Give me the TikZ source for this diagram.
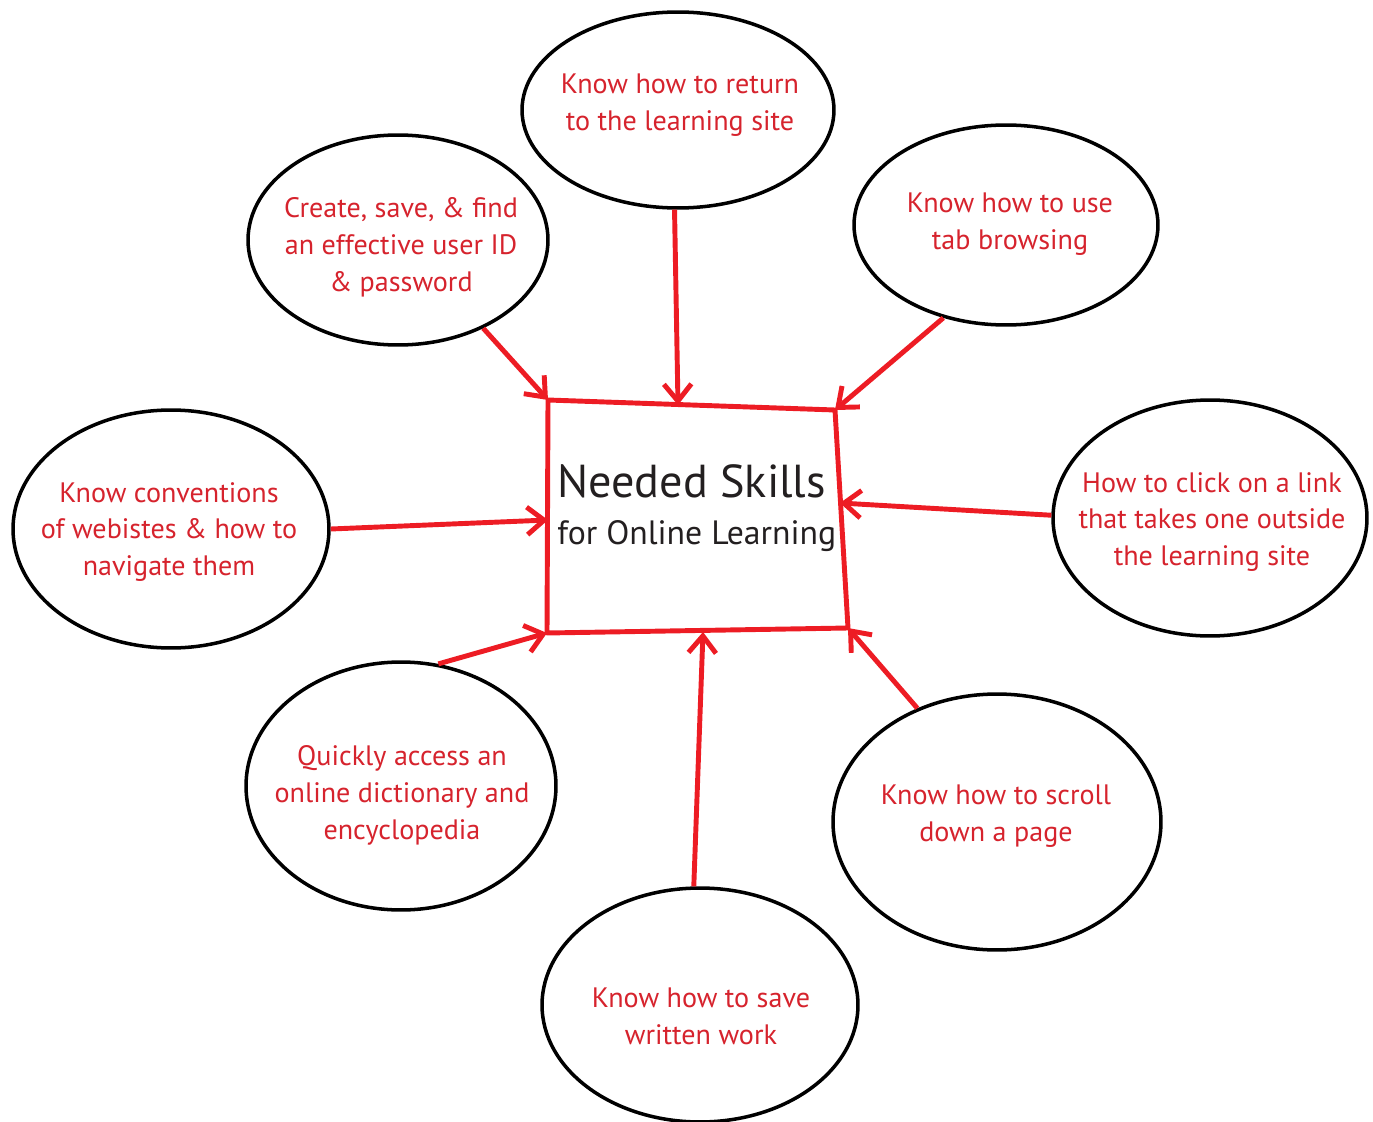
\documentclass[tikz,border=0pt]{standalone}
\usepackage{fontspec}
\setmainfont{PT Sans}
\usetikzlibrary{arrows.meta, shapes.geometric}

\definecolor{linered}{RGB}{237,28,36}
\definecolor{textred}{RGB}{214,35,45}
\definecolor{inkgray}{RGB}{35,31,32}

\begin{document}
\begin{tikzpicture}[x=0.02cm, y=-0.02cm,
    bubble/.style={draw=black, line width=2pt, ellipse, inner sep=0pt},
    bubbletext/.style={inner sep=0pt, align=center, text=textred, font=\fontsize{16}{21}\selectfont},
    link/.style={draw=linered, line width=2.8pt, -{Straight Barb[length=0.34cm, width=0.55cm]}},
    frame/.style={draw=linered, line width=2.8pt, line join=round}]
                    \useasboundingbox (0, 0) rectangle (1373, 1122);

                    \coordinate (tl) at (548, 400);
                    \coordinate (tr) at (835, 410);
                    \coordinate (br) at (848, 628);
                    \coordinate (bl) at (547, 633);
                    \coordinate (ptop) at (678, 405);
                    \coordinate (pleft) at (548, 520);
                    \coordinate (pright) at (840, 503);
                    \coordinate (pbot) at (703, 632);

                    \node[inner sep=0, anchor=west, align=left, text=inkgray,
                        font=\fontsize{19.2}{27}\selectfont] (skills) at (557, 508)
                        {{\fontsize{26.3}{27}\selectfont Needed Skills}\\for Online Learning};

                    \node[bubble, minimum width=6.24cm, minimum height=3.92cm] (ret) at (678, 110) {};
                    \node[bubble, minimum width=6.0cm, minimum height=4.2cm] (pwd) at (398, 240) {};
                    \node[bubble, minimum width=6.08cm, minimum height=4.0cm] (tab) at (1006, 225) {};
                    \node[bubble, minimum width=6.32cm, minimum height=4.76cm] (conv) at (171, 529) {};
                    \node[bubble, minimum width=6.28cm, minimum height=4.72cm] (link) at (1210, 518) {};
                    \node[bubble, minimum width=6.2cm, minimum height=4.96cm] (dict) at (401, 786) {};
                    \node[bubble, minimum width=6.56cm, minimum height=5.12cm] (scroll) at (997, 822) {};
                    \node[bubble, minimum width=6.32cm, minimum height=4.68cm] (save) at (700, 1005) {};

                    \node[bubbletext] (rettext) at (680, 105) {Know how to return\\to the learning site};
                    \node[bubbletext] (pwdtext) at (401, 247) {Create, save, \& find\\an effective user ID\\\& password};
                    \node[bubbletext] (tabtext) at (1010, 224) {Know how to use\\tab browsing};
                    \node[bubbletext] (convtext) at (169, 532) {Know conventions\\of webistes \& how to\\navigate them};
                    \node[bubbletext] (linktext) at (1212, 522) {How to click on a link\\that takes one outside\\the learning site};
                    \node[bubbletext] (dicttext) at (402, 795) {Quickly access an\\online dictionary and\\encyclopedia};
                    \node[bubbletext] (scrolltext) at (996, 816) {Know how to scroll\\down a page};
                    \node[bubbletext] (savetext) at (701, 1016) {Know how to save\\written work};

                    \draw[frame] (tl) -- (tr) -- (br) -- (bl) -- cycle;

                    \draw[link] (ret.268) -- (ptop);
                    \draw[link] (pwd.314) -- (tl);
                    \draw[link] (tab.236) -- (tr);
                    \draw[link] (conv.0) -- (pleft);
                    \draw[link] (link.179) -- (pright);
                    \draw[link] (dict.73) -- (bl);
                    \draw[link] (scroll.125) -- (br);
                    \draw[link] (save.93) -- (pbot);
                \end{tikzpicture}
\end{document}
